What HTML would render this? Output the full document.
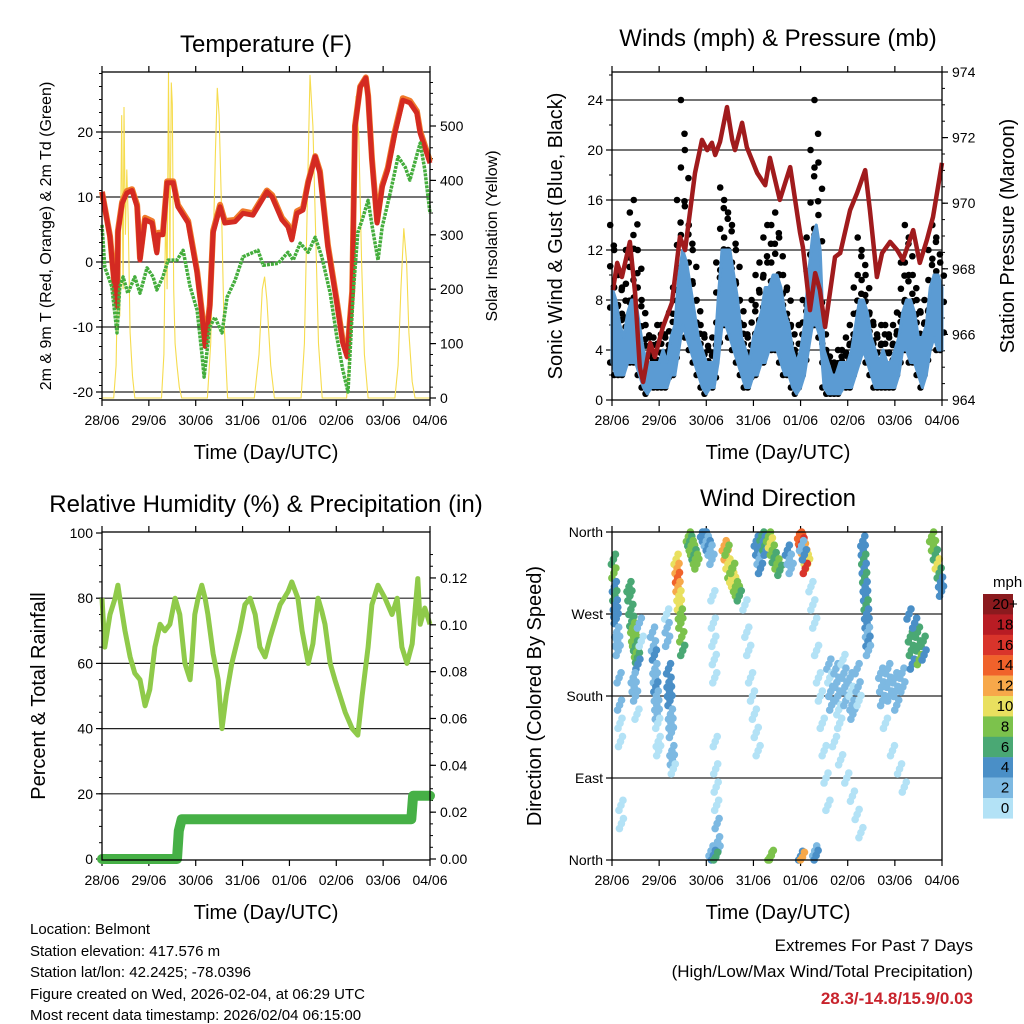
<!DOCTYPE html>
<html><head><meta charset="utf-8"><style>
body{margin:0;background:#fff;}
svg{display:block;font-family:"Liberation Sans",Arial,sans-serif;}
</style></head><body>
<svg id="c" width="1024" height="1024" viewBox="0 0 1024 1024">
<rect x="0" y="0" width="1024" height="1024" fill="#fff"/>
<text x="266" y="52" font-size="24" text-anchor="middle">Temperature (F)</text>
<text x="778" y="46" font-size="24" text-anchor="middle">Winds (mph) &amp; Pressure (mb)</text>
<text x="266" y="512" font-size="24" text-anchor="middle">Relative Humidity (%) &amp; Precipitation (in)</text>
<text x="778" y="506" font-size="24" text-anchor="middle">Wind Direction</text>
<text x="266" y="459" font-size="20" text-anchor="middle">Time (Day/UTC)</text>
<text x="778" y="459" font-size="20" text-anchor="middle">Time (Day/UTC)</text>
<text x="266" y="919" font-size="20" text-anchor="middle">Time (Day/UTC)</text>
<text x="778" y="919" font-size="20" text-anchor="middle">Time (Day/UTC)</text>
<text transform="translate(51,236) rotate(-90)" font-size="16" text-anchor="middle">2m &amp; 9m T (Red, Orange) &amp; 2m Td (Green)</text>
<text transform="translate(497,236) rotate(-90)" font-size="16" text-anchor="middle">Solar Insolation (Yellow)</text>
<text transform="translate(562,236) rotate(-90)" font-size="20" text-anchor="middle">Sonic Wind &amp; Gust (Blue, Black)</text>
<text transform="translate(1014,236) rotate(-90)" font-size="20" text-anchor="middle">Station Pressure (Maroon)</text>
<text transform="translate(45,696) rotate(-90)" font-size="20" text-anchor="middle">Percent &amp; Total Rainfall</text>
<text transform="translate(541,696) rotate(-90)" font-size="20" text-anchor="middle">Direction (Colored By Speed)</text>
<g font-size="15">
<text x="30" y="934">Location: Belmont</text>
<text x="30" y="956">Station elevation: 417.576 m</text>
<text x="30" y="977">Station lat/lon: 42.2425; -78.0396</text>
<text x="30" y="999">Figure created on Wed, 2026-02-04, at 06:29 UTC</text>
<text x="30" y="1020">Most recent data timestamp: 2026/02/04 06:15:00</text>
</g>
<text x="973" y="951" font-size="17" text-anchor="end">Extremes For Past 7 Days</text>
<text x="973" y="977" font-size="17" text-anchor="end">(High/Low/Max Wind/Total Precipitation)</text>
<text x="973" y="1004" font-size="17" font-weight="bold" fill="#c8232c" text-anchor="end">28.3/-14.8/15.9/0.03</text>
<text x="993" y="587" font-size="15">mph</text>
</svg>
<script>
var tempTime=[0,.17,.28,.32,.34,.43,.53,.64,.75,.81,.92,1.07,1.17,1.2,1.3,1.39,1.52,1.62,1.84,2.03,2.13,2.2,2.3,2.37,2.52,2.62,2.84,3.01,3.22,3.52,3.63,3.84,3.97,4.05,4.16,4.29,4.4,4.55,4.65,4.82,5.01,5.14,5.23,5.34,5.4,5.51,5.63,5.68,5.76,5.87,5.98,6.1,6.25,6.42,6.57,6.72,6.79,7.0];
var tempRed=[10.8,3.8,-4.8,-6.9,4.5,9,10.6,11,8.5,0.3,6.5,6,1.4,4.2,4.2,12.2,12.2,8.5,6,-1.7,-7.8,-13,-6.9,4.5,8.5,6,6.2,7.5,7.2,10.8,10,6.5,5.4,3.4,7.5,8,12.2,16.2,13.7,2.3,-6.3,-12.5,-14.6,-4.8,20.8,26.9,28.3,25.4,15.7,6,11.5,14.2,19.8,24.9,24.5,22.9,19.8,15.2];
var tempOrange=[10.8,4.0,-4.5,-6.6,4.8,9.2,10.9,11.2,8.8,0.6,6.8,6.3,1.7,4.5,4.5,12.4,12.4,8.8,6.3,-1.4,-7.5,-12.7,-6.6,4.8,8.8,6.3,6.5,7.8,7.5,11,10.3,6.8,5.7,3.7,7.8,8.3,12.4,16.3,14,2.6,-6,-12.2,-14.3,-4.5,21,27,28.4,25.6,16,6.3,11.8,14.5,20.1,25.2,24.8,23.2,20.1,15.5];
var tdTime=[0,.06,.21,.32,.38,.45,.55,.7,.81,.96,1.09,1.17,1.3,1.41,1.6,1.73,1.88,2.03,2.13,2.18,2.3,2.41,2.56,2.67,2.84,3.01,3.33,3.44,3.76,3.97,4.08,4.23,4.4,4.55,4.69,4.87,5.01,5.14,5.25,5.36,5.46,5.57,5.68,5.78,5.89,5.98,6.15,6.32,6.47,6.57,6.79,6.89,7];
var tdGreen=[5.7,-0.8,-3.8,-10.9,-3.8,-2.3,-4.8,-2.3,-4.8,-0.9,-2.3,-4.3,-2.3,0.3,0.3,1.8,-3.8,-7.4,-14,-17.7,-10,-8.5,-10.9,-5.4,-2.8,0.8,1.8,-0.5,-0.2,1.5,0.3,2.9,1.5,3.8,0.8,-4.8,-11.5,-16.6,-20,-4.8,4.5,6.9,9.5,4.9,0.3,5.4,10.6,16.2,14.6,12.6,18.3,14.2,7.5];
var solarTime=[0,.25,.3,.35,.38,.42,.45,.47,.5,.53,.56,.6,.65,.7,1.27,1.32,1.36,1.39,1.42,1.45,1.48,1.5,1.53,1.56,1.6,1.65,1.7,2.25,2.32,2.38,2.42,2.46,2.5,2.55,2.6,2.68,3.25,3.35,3.42,3.47,3.52,3.6,3.68,4.25,4.32,4.38,4.44,4.5,4.56,4.62,4.7,5.22,5.3,5.36,5.42,5.48,5.54,5.6,5.68,6.25,6.32,6.38,6.44,6.5,6.55,6.62,6.68,7];
var solarVal=[0,0,60,300,150,520,200,535,300,420,330,120,40,0,0,80,350,200,600,250,580,540,200,100,60,20,0,0,100,300,450,570,520,350,150,0,0,80,200,223,180,60,0,0,100,350,594,500,300,100,0,0,100,350,555,480,250,80,0,0,60,200,312,250,120,30,0,0];
var windLo=[3,2,2,2,3,3,3,2,1,.5,1,1,1,1,1,2,2,4,6,5,4,3,2,1,.5,1,1,3,6,6,5,4,3,2,1,1,2,2,3,3,4,4,4,3,2,2,1,.5,1,2,4,6,6,5,1,.5,.5,.5,.5,1,1,1,2,3,4,3,2,1,1,1,1,1,1,2,4,4,3,3,2,1,2,4,5,4,4];
var windHi=[9,8,6,5,7,8,8,6,4,3,3,3,3,4,3,5,6,10,12,11,9,7,5,4,3,3,3,8,12,12,12,10,8,5,4,3,5,6,7,9,9,10,10,9,7,6,4,3,4,6,10,13,14,12,4,3,2,2,3,3,3,4,6,8,8,7,5,4,3,4,3,3,4,5,7,8,8,7,5,5,6,9,10,10,9];
var windGust=[14,12,10,9,12,15,16,12,8,6,5,5,6,6,5,7,9,16,24,20,14,12,8,6,5,4,5,11,17,16,15,14,12,8,6,5,8,10,11,13,14,14,15,13,10,9,6,4,6,8,13,20,24,19,6,4,3,3,4,4,5,6,9,13,12,10,7,6,5,6,6,5,6,7,11,14,13,10,8,7,8,12,14,13,11];
var pressTime=[.02,.11,.21,.38,.49,.59,.66,.81,.91,1.08,1.27,1.44,1.55,1.76,1.91,2.02,2.12,2.19,2.29,2.44,2.55,2.61,2.76,2.86,3.08,3.25,3.35,3.56,3.78,3.99,4.05,4.2,4.31,4.41,4.52,4.73,4.84,5.05,5.2,5.37,5.47,5.62,5.73,5.9,6.05,6.17,6.39,6.53,6.68,6.81,7.0];
var pressVal=[967.35,968.18,967.75,968.82,967.26,965.0,964.55,965.74,965.31,966.23,966.96,968.97,968.57,970.92,971.93,971.62,971.84,971.47,971.87,972.93,971.93,971.62,972.45,971.71,970.92,970.55,971.38,970.1,971.1,969.09,968.66,966.74,967.87,967.35,966.23,968.36,968.48,969.79,970.31,971.01,969.79,967.75,968.48,968.82,968.57,968.27,969.18,968.18,968.88,969.58,971.23];
var rhTime=[0,.06,.17,.28,.34,.38,.49,.6,.7,.81,.92,1.02,1.13,1.24,1.34,1.45,1.56,1.66,1.77,1.88,1.92,1.98,2.05,2.13,2.2,2.26,2.37,2.48,2.56,2.65,2.77,2.94,3.05,3.16,3.27,3.37,3.48,3.59,3.8,3.97,4.05,4.18,4.27,4.4,4.5,4.61,4.69,4.76,4.87,4.97,5.19,5.34,5.46,5.55,5.68,5.76,5.89,6.04,6.19,6.3,6.4,6.51,6.62,6.74,6.79,6.89,7];
var rhVal=[80,65,75,80,84,80,70,62,57,55,47,52,65,72,70,72,80,75,60,55,62,75,80,84,80,75,63,55,40,50,60,70,78,80,75,65,62,68,78,82,85,80,70,60,66,80,76,72,60,55,45,40,38,50,65,78,84,80,75,80,65,60,66,86,72,77,72];
var rainTime=[0,1.6,1.64,1.7,6.6,6.64,7];
var rainVal=[0,0,0.012,0.017,0.017,0.027,0.027];
var dirTime=[.03,.04,.05,.06,.07,.08,.09,.1,.11,.12,.13,.15,.16,.17,.18,.19,.2,
.36,.38,.4,.42,.44,.46,.48,.5,.52,.54,.55,.45,.47,.5,.53,.58,.62,
.86,.88,.9,.91,.92,.93,.94,.95,.96,.97,.98,.99,
1.16,1.17,1.18,1.2,1.21,1.22,1.23,1.24,1.25,1.26,1.27,1.28,1.3,
1.36,1.38,1.39,1.4,1.42,1.43,1.45,1.46,1.48,1.5,
1.62,1.65,1.68,1.71,1.74,1.77,1.8,
1.92,1.96,2.0,2.04,2.08,2.12,2.14,2.15,2.16,2.17,2.18,2.19,2.2,2.21,2.22,2.23,2.24,2.25,2.1,2.15,2.2,
2.38,2.42,2.46,2.5,2.54,2.58,2.62,2.66,2.7,2.44,2.56,
2.82,2.86,2.9,2.94,2.98,3.02,3.06,3.1,3.06,3.09,3.12,3.15,
3.18,3.21,3.24,3.27,3.32,3.36,3.4,3.44,3.5,3.56,3.72,3.76,3.8,
3.98,4.0,4.03,4.06,4.09,4.12,4.15,4.1,4.02,4.08,
4.22,4.26,4.3,4.34,4.38,4.42,4.46,4.5,4.54,4.58,4.3,4.33,
4.6,4.62,4.64,4.66,4.75,4.77,4.79,4.81,4.83,4.9,4.92,4.94,4.96,5.05,5.07,5.09,5.11,5.2,5.22,5.24,4.72,4.85,4.98,5.1,5.2,5.28,
5.32,5.33,5.34,5.35,5.36,5.37,5.38,5.39,5.4,5.41,5.42,5.43,5.44,
5.7,5.72,5.74,5.85,5.87,5.89,6.0,6.02,6.04,6.15,6.17,5.8,5.95,6.1,6.2,
6.33,6.35,6.37,6.48,6.5,6.52,6.6,6.62,6.3,6.42,
6.78,6.82,6.86,6.9,6.94,6.97,6.99,3.35,3.38,4.0,4.04];
var dirDeg=[330,315,300,290,280,272,265,250,240,240,230,200,170,150,130,60,40,
300,290,275,262,255,245,240,235,228,222,215,200,190,180,160,260,240,
250,235,225,210,200,190,180,170,160,150,130,120,
270,255,240,210,195,185,175,160,150,140,120,110,100,
330,320,310,300,290,280,270,260,245,230,
355,350,345,340,335,330,325,
360,355,350,345,340,330,290,260,240,220,200,130,100,80,60,40,20,10,10,5,3,
345,335,325,315,310,305,300,295,290,340,320,
280,250,230,200,180,160,140,120,350,340,330,320,
356,350,345,340,355,348,340,332,325,318,340,330,320,
358,352,348,342,335,330,325,320,345,335,
300,280,260,230,200,180,150,120,90,60,10,5,
215,200,185,170,210,195,180,165,150,220,205,190,175,200,185,170,160,210,190,175,130,110,90,70,50,30,
350,340,330,320,310,300,290,280,270,260,250,240,230,
205,190,175,210,195,180,200,185,170,205,190,150,120,100,80,
245,230,215,250,235,220,240,225,270,260,
355,345,335,325,315,305,295,3,5,4,3];
var dirSpd=[6,8,5,6,4,5,4,3,3,2,2,2,2,1,1,1,1,
6,6,6,7,8,8,8,7,8,7,4,2,3,2,1,2,1,
2,3,4,2,3,4,3,2,2,1,1,1,
1,3,2,4,4,4,4,3,3,2,2,3,1,
10,13,14,12,10,11,8,9,8,7,
8,7,9,8,7,8,9,
4,4,3,4,3,3,1,0,1,0,1,0,1,0,1,2,2,3,3,4,6,
12,13,10,9,10,11,8,8,7,8,9,
0,1,0,1,0,1,0,1,4,4,3,4,
6,4,7,5,8,10,9,7,8,6,4,3,2,
14,15,16,13,12,11,10,16,3,4,
0,1,0,1,0,0,1,0,1,0,2,4,
2,1,3,2,2,3,2,1,1,1,2,3,2,2,1,2,3,2,3,1,0,1,0,1,0,1,
4,5,6,5,6,4,5,6,4,4,3,4,3,
2,3,2,3,2,3,2,3,2,3,2,1,0,1,0,
6,7,5,7,6,8,6,5,4,4,
8,9,7,10,6,5,4,8,9,4,12];
var dayLabels=["28/06","29/06","30/06","31/06","01/06","02/06","03/06","04/06"];
var tempTicks=[-20,-10,0,10,20];
var solarTicks=[0,100,200,300,400,500];
var windTicks=[0,4,8,12,16,20,24];
var pressTicks=[964,966,968,970,972,974];
var rhTicks=[0,20,40,60,80,100];
var rainTicks=[0,0.02,0.04,0.06,0.08,0.1,0.12];
var dirNames=["North","East","South","West","North"];
var dirTicks=[0,90,180,270,360];
var cbLabels=["20+","18","16","14","12","10","8","6","4","2","0"];
var cbColors=["#8b1a1e","#b81c24","#d9342b","#f0622b","#f7a84a","#e9e05f","#7cc24c","#4aa874","#4a8fc7","#7db9e2","#b3e2f6"];

var NS="http://www.w3.org/2000/svg";
var svg=document.getElementById('c');
function mk(tag,attrs,parent){var e=document.createElementNS(NS,tag);for(var k in attrs)e.setAttribute(k,attrs[k]);(parent||svg).appendChild(e);return e;}
var P1={x0:102,x1:430,y0:72,y1:400},P2={x0:612,x1:942,y0:72,y1:400},P3={x0:102,x1:430,y0:532,y1:860},P4={x0:612,x1:942,y0:532,y1:860};
function xs(P){return function(t){return P.x0+t*(P.x1-P.x0)/7;};}
var x1s=xs(P1),x2s=xs(P2),x3s=xs(P3),x4s=xs(P4);
function yTemp(v){return 262-v*6.5;}
function ySolar(v){return 398-v*0.544;}
function yWind(v){return 400-v*12.5;}
function yPress(v){return 400-(v-964)*32.8;}
function yRh(v){return 859-v*3.26;}
function yRain(v){return 859-v*2342;}
function yDir(v){return 860-v*0.9111;}
function spdColor(s){var i=Math.min(10,Math.floor(s/2));return cbColors[10-i];}
function poly(ts,vs,xf,yf){var d='';for(var i=0;i<ts.length;i++)d+=(i?'L':'M')+xf(ts[i]).toFixed(1)+' '+yf(vs[i]).toFixed(1);return d;}

function frame(P,xf,name,gridVals,yf,leftTicks,leftFmt,rightTicks,rightYf,rightFmt,minorL,minorR){
  var g=mk('g',{});
  
  
  gridVals.forEach(function(v){var y=yf(v);if(y>P.y0+2&&y<P.y1-2){var l=mk('line',{x1:P.x0,x2:P.x1,y1:y,y2:y,stroke:'#222','stroke-width':1.2},g);
    
    }});
  for(var d=0;d<8;d++){var x=xf(d);
    var t=mk('line',{x1:x,x2:x,y1:P.y1,y2:P.y1+6,stroke:'#000','stroke-width':1.2},g);
    
    
    var t2=mk('line',{x1:x,x2:x,y1:P.y0,y2:P.y0-6,stroke:'#000','stroke-width':1.2},g);
    
    
    var lb=mk('text',{x:x,y:P.y1+25,'font-size':14,'text-anchor':'middle'},g);lb.textContent=dayLabels[d];
    
    }
  leftTicks.forEach(function(v,i){var y=yf(v);
    var t=mk('line',{x1:P.x0-6,x2:P.x0,y1:y,y2:y,stroke:'#000','stroke-width':1.2},g);
    
    
    var lb=mk('text',{x:P.x0-9,y:y+5,'font-size':14,'text-anchor':'end'},g);lb.textContent=leftFmt(v,i);
    
    });
  (minorL||[]).forEach(function(v){var y=yf(v);var t=mk('line',{x1:P.x0-3,x2:P.x0,y1:y,y2:y,stroke:'#000','stroke-width':1},g);
    
    });
  if(rightTicks){rightTicks.forEach(function(v){var y=rightYf(v);
    var t=mk('line',{x1:P.x1,x2:P.x1+6,y1:y,y2:y,stroke:'#000','stroke-width':1.2},g);
    
    
    var lb=mk('text',{x:P.x1+10,y:y+5,'font-size':14},g);lb.textContent=rightFmt(v);
    
    });
   (minorR||[]).forEach(function(v){var y=rightYf(v);var t=mk('line',{x1:P.x1,x2:P.x1+3,y1:y,y2:y,stroke:'#000','stroke-width':1},g);
    
    });}
  return g;
}
function border(P,name){var r=mk('rect',{x:P.x0,y:P.y0,width:P.x1-P.x0,height:P.y1-P.y0,fill:'none',stroke:'#000','stroke-width':1.3});
  
  }
function fmtN(v){return String(v);}
function minors(a,b,s){var r=[];for(var v=a;v<=b+1e-9;v+=s)r.push(+v.toFixed(4));return r;}

// Panel 1
frame(P1,x1s,'temp',tempTicks,yTemp,tempTicks,fmtN,solarTicks,ySolar,fmtN,minors(-21,29,2),minors(0,590,20));
var s=mk('path',{d:poly(solarTime,solarVal,x1s,ySolar),fill:'none',stroke:'#f6dc4e','stroke-width':1.1});


var o=mk('path',{d:poly(tempTime,tempOrange,x1s,yTemp),fill:'none',stroke:'#f07a2a','stroke-width':6,'stroke-linejoin':'round'});


var r=mk('path',{d:poly(tempTime,tempRed,x1s,yTemp),fill:'none',stroke:'#d42a22','stroke-width':5,'stroke-linejoin':'round'});


var gd=mk('path',{d:poly(tdTime,tdGreen,x1s,yTemp),fill:'none',stroke:'#44ad3c','stroke-width':3.5,'stroke-dasharray':'3 1','stroke-linejoin':'round'});


border(P1,'temp');

// Panel 2
frame(P2,x2s,'winds',windTicks,yWind,windTicks,fmtN,pressTicks,yPress,fmtN,minors(0,26,2),minors(964,974,0.5));
var fr=[0,0.2,0.4,0.55,0.7,0.85,1];
for(var i=0;i<windGust.length;i++){var tt=i/12,x=x2s(tt);
  for(var k=0;k<fr.length;k++){
    var v=windLo[i]+(windGust[i]-windLo[i])*fr[k];
    var gc=mk('circle',{cx:x+(k%2?1.8:-1.8),cy:yWind(v),r:3.3,fill:'#000'});
    
    }}
var bd='';for(i=0;i<windHi.length;i++)bd+=(i?'L':'M')+x2s(i/12).toFixed(1)+' '+yWind(windHi[i]).toFixed(1);
for(i=windLo.length-1;i>=0;i--)bd+='L'+x2s(i/12).toFixed(1)+' '+yWind(windLo[i]).toFixed(1);
var band=mk('path',{d:bd+'Z',fill:'#5b9bd3',stroke:'#5b9bd3','stroke-width':3,'stroke-linejoin':'round'});


var pr=mk('path',{d:poly(pressTime,pressVal,x2s,yPress),fill:'none',stroke:'#a01b1d','stroke-width':4.5,'stroke-linejoin':'round'});


border(P2,'winds');

// Panel 3
frame(P3,x3s,'rh',rhTicks,yRh,rhTicks,fmtN,rainTicks,yRain,function(v){return v.toFixed(2);},minors(0,100,5),minors(0,0.13,0.005));
var rh=mk('path',{d:poly(rhTime,rhVal,x3s,yRh),fill:'none',stroke:'#8fca4a','stroke-width':5,'stroke-linejoin':'round'});


var rn=mk('path',{d:poly(rainTime,rainVal,x3s,yRain),fill:'none',stroke:'#46b046','stroke-width':10,'stroke-linecap':'round','stroke-linejoin':'round'});


border(P3,'rh');

// Panel 4
frame(P4,x4s,'dir',dirTicks,yDir,dirTicks,function(v,i){return dirNames[i];},null,null,null,[]);
var offs=[[-2,5],[2,-5],[0,0]];
for(i=0;i<dirTime.length;i++){
  for(var q=0;q<offs.length;q++){
    var cy=Math.max(532,Math.min(860,yDir(dirDeg[i])+offs[q][1]));
    var c=mk('circle',{cx:x4s(dirTime[i])+offs[q][0],cy:cy,r:3.8,fill:spdColor(dirSpd[i])});
    
    }}
border(P4,'dir');
for(i=0;i<cbColors.length;i++){var y=594+i*20.4;
  var cb=mk('rect',{x:983,y:y,width:30,height:20.6,fill:cbColors[i]});
  
  
  var cl=mk('text',{x:1005,y:y+15,'font-size':15,'text-anchor':'middle'});cl.textContent=cbLabels[i];
  
  }
</script>
</body></html>
